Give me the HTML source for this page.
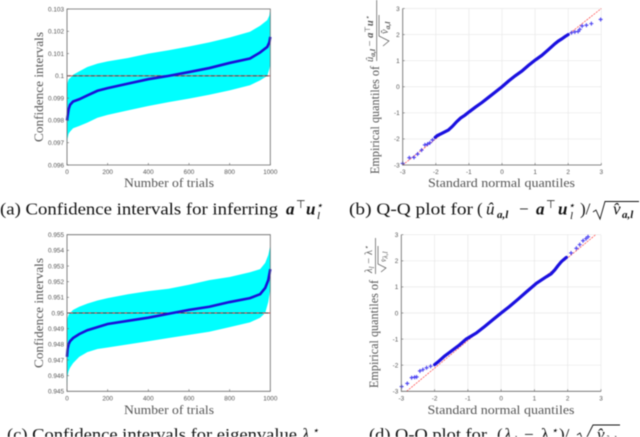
<!DOCTYPE html>
<html lang="en">
<head>
<meta charset="utf-8">
<title>Confidence intervals and Q-Q plots</title>
<style>
html,body{margin:0;padding:0;background:#fff;width:640px;height:437px;overflow:hidden}
svg{display:block;filter:blur(0.45px)}
text{font-family:"Liberation Serif",serif}
.tick{font-family:"Liberation Sans",sans-serif;font-size:6.4px;fill:#555}
.lab{font-size:13px;fill:#555}
.fr{font-size:10.5px;fill:#555}
.frs{font-size:7.5px;fill:#555}
.cap{font-size:17px;fill:#111}
.sub{font-size:11px;fill:#111}
.m{font-style:italic}
.b{font-style:italic;font-weight:bold}
</style>
</head>
<body>
<svg id="fig" xmlns="http://www.w3.org/2000/svg" width="640" height="437" viewBox="0 0 640 437">
  <g id="panel-a"></g>
  <g id="panel-b"></g>
  <g id="panel-c"></g>
  <g id="panel-d"></g>

  <text class="lab" x="169" y="187" text-anchor="middle" textLength="90" lengthAdjust="spacingAndGlyphs">Number of trials</text>
  <text class="lab" transform="translate(43,87) rotate(-90)" text-anchor="middle" textLength="110" lengthAdjust="spacingAndGlyphs">Confidence intervals</text>
  <text class="lab" x="169" y="414" text-anchor="middle" textLength="90" lengthAdjust="spacingAndGlyphs">Number of trials</text>
  <text class="lab" transform="translate(43,313) rotate(-90)" text-anchor="middle" textLength="110" lengthAdjust="spacingAndGlyphs">Confidence intervals</text>

  <text class="lab" x="501.5" y="187" text-anchor="middle" textLength="147" lengthAdjust="spacingAndGlyphs">Standard normal quantiles</text>
  <g>
    <text class="lab" transform="translate(379,174) rotate(-90)" textLength="108" lengthAdjust="spacingAndGlyphs">Empirical quantiles of</text>
    <text class="fr" transform="translate(373,62) rotate(-90)"><tspan class="m">û</tspan><tspan class="b frs" dy="2">a,l</tspan><tspan dy="-2"> − </tspan><tspan class="b">a</tspan><tspan class="frs" dy="-3">⊤</tspan><tspan class="b" dy="3">u</tspan><tspan class="m frs" dy="-3">⋆</tspan></text>
    <line x1="376.7" y1="61" x2="376.7" y2="0" stroke="#555" stroke-width="0.7"></line>
    <text class="fr" transform="translate(388,34) rotate(-90)"><tspan class="m">v̂</tspan><tspan class="b frs" dy="2">a,l</tspan></text>
    <path d="M383 46 L389 41 L379 36 V15" fill="none" stroke="#555" stroke-width="0.7"></path>
  </g>
  <text class="lab" x="501" y="414" text-anchor="middle" textLength="147" lengthAdjust="spacingAndGlyphs">Standard normal quantiles</text>
  <g>
    <text class="lab" transform="translate(378,388) rotate(-90)" textLength="108" lengthAdjust="spacingAndGlyphs">Empirical quantiles of</text>
    <text class="fr" transform="translate(372,273) rotate(-90)"><tspan class="m">λ</tspan><tspan class="m frs" dy="2">l</tspan><tspan dy="-2"> − λ</tspan><tspan class="m frs" dy="-3">⋆</tspan></text>
    <line x1="375.5" y1="274" x2="375.5" y2="238" stroke="#555" stroke-width="0.7"></line>
    <text class="frs" transform="translate(386,262) rotate(-90)"><tspan class="m">v̂</tspan><tspan class="m" dy="1.5">λ,l</tspan></text>
    <path d="M381 272 L386 268 L378 264 V246" fill="none" stroke="#555" stroke-width="0.7"></path>
  </g>

  <g>
    <text class="cap" x="0" y="214.5" textLength="278" lengthAdjust="spacingAndGlyphs">(a) Confidence intervals for inferring</text>
    <text class="cap b" x="286" y="214.5">a</text>
    <text class="sub" x="296" y="208">⊤</text>
    <text class="cap b" x="306" y="214.5">u</text>
    <text class="sub m" x="316" y="209">⋆</text>
    <text class="sub m" x="317" y="219">l</text>
  </g>
  <g>
    <text class="cap" x="349" y="214.5" textLength="124" lengthAdjust="spacingAndGlyphs">(b) Q-Q plot for</text>
    <text class="cap" x="477" y="214.5">(</text>
    <text class="cap m" x="486" y="214.5">û</text>
    <text class="sub b" x="497" y="218">a,l</text>
    <text class="cap" x="519" y="214.5">−</text>
    <text class="cap b" x="536" y="214.5">a</text>
    <text class="sub" x="546" y="208">⊤</text>
    <text class="cap b" x="558" y="214.5">u</text>
    <text class="sub m" x="568" y="209">⋆</text>
    <text class="sub m" x="570" y="219">l</text>
    <text class="cap" x="580" y="214.5">)/</text>
    <path d="M593 212 L596 210 L600 219 L605 201.5 H639" fill="none" stroke="#111" stroke-width="0.9"></path>
    <text class="cap m" x="613" y="214.5">v̂</text>
    <text class="sub b" x="622" y="218">a,l</text>
  </g>
  <g>
    <text class="cap" x="7" y="440" textLength="290" lengthAdjust="spacingAndGlyphs">(c) Confidence intervals for eigenvalue</text>
    <text class="cap m" x="302" y="440">λ</text>
    <text class="sub m" x="312" y="434">⋆</text>
  </g>
  <g>
    <text class="cap" x="369" y="440" textLength="118" lengthAdjust="spacingAndGlyphs">(d) Q-Q plot for</text>
    <text class="cap" x="497" y="440">(</text>
    <text class="cap m" x="504" y="440">λ</text>
    <text class="sub m" x="514" y="443">l</text>
    <text class="cap" x="524" y="440">−</text>
    <text class="cap" x="541" y="440">λ</text>
    <text class="sub m" x="551" y="434">⋆</text>
    <text class="cap" x="559" y="440">)/</text>
    <path d="M577 435 L580 433 L584 443 L593 425 H620" fill="none" stroke="#111" stroke-width="0.9"></path>
    <text class="cap m" x="597" y="440">v̂</text>
    <text class="sub m" x="606" y="443">λ,l</text>
  </g>
</svg>
<script>
const trialTicks = [0, 200, 400, 600, 800, 1000];
const quantileTicks = [-3, -2, -1, 0, 1, 2, 3];

const aTicks = [0.096, 0.097, 0.098, 0.099, 0.1, 0.101, 0.102, 0.103];
const aTrials = [0, 3, 8, 15, 30, 60, 100, 150, 200, 300, 400, 500, 600, 700, 800, 900, 950, 985, 995, 1000];
const aCenter = [0.098, 0.0982, 0.0985, 0.0987, 0.09885, 0.09895, 0.09912, 0.09933, 0.09945, 0.09965, 0.09985, 0.1, 0.10017, 0.10035, 0.10058, 0.10078, 0.10105, 0.1013, 0.1015, 0.10175];
const aUpper = [0.0995, 0.0997, 0.09985, 0.0999, 0.10005, 0.1002, 0.1004, 0.10055, 0.10065, 0.1008, 0.101, 0.10115, 0.10132, 0.1015, 0.10172, 0.10198, 0.10225, 0.1025, 0.1027, 0.103];
const aLower = [0.097, 0.0972, 0.0974, 0.0975, 0.09765, 0.09775, 0.0979, 0.09812, 0.09825, 0.09845, 0.09865, 0.09882, 0.09898, 0.09915, 0.09935, 0.09958, 0.0998, 0.1, 0.1003, 0.1005];

const cTicks = [0.945, 0.946, 0.947, 0.948, 0.949, 0.95, 0.951, 0.952, 0.953, 0.954, 0.955];
const cTrials = [0, 3, 8, 15, 30, 60, 100, 150, 200, 300, 400, 500, 600, 700, 800, 900, 950, 975, 990, 1000];
const cCenter = [0.9472, 0.9477, 0.948, 0.9482, 0.9484, 0.94865, 0.9489, 0.9491, 0.9493, 0.9495, 0.9497, 0.94995, 0.9502, 0.9504, 0.9507, 0.95095, 0.9512, 0.9516, 0.9521, 0.9528];
const cUpper = [0.9495, 0.9497, 0.9499, 0.95, 0.9502, 0.9504, 0.9506, 0.9508, 0.95095, 0.9512, 0.9514, 0.95155, 0.9518, 0.9521, 0.9523, 0.9526, 0.9528, 0.9532, 0.9537, 0.9543];
const cLower = [0.9453, 0.946, 0.9463, 0.9465, 0.9468, 0.9472, 0.9475, 0.9477, 0.9478, 0.948, 0.9482, 0.9484, 0.9486, 0.9488, 0.9491, 0.9494, 0.9497, 0.95, 0.9507, 0.9515];

const bTheory = [-3, -2.8, -2.66, -2.55, -2.43, -2.33, -2.25, -2.18, -2.1, -2.02, -1.95, -1.82, -1.62, -1.5, -1.37, -1.25, -1.12, -1, -0.8, -0.6, -0.4, -0.2, 0, 0.2, 0.4, 0.6, 0.8, 1, 1.2, 1.4, 1.6, 1.7, 1.8, 1.9, 2, 2.1, 2.2, 2.3, 2.35, 2.42, 2.55, 2.7, 2.98];
const bSample = [-2.94, -2.72, -2.71, -2.58, -2.43, -2.23, -2.2, -2.15, -2.04, -1.94, -1.87, -1.79, -1.66, -1.52, -1.34, -1.2, -1.09, -0.97, -0.78, -0.6, -0.4, -0.2, 0, 0.22, 0.42, 0.6, 0.82, 1.02, 1.2, 1.42, 1.65, 1.75, 1.83, 1.92, 2, 2.07, 2.1, 2.12, 2.2, 2.33, 2.36, 2.42, 2.58];
const bRefX = [-3, 3];
const bRefY = [-3, 3];

const dTheory = [-2.99, -2.82, -2.69, -2.6, -2.54, -2.44, -2.35, -2.24, -2.12, -2, -1.9, -1.7, -1.5, -1.25, -1.05, -0.75, -0.5, -0.25, 0, 0.25, 0.5, 0.75, 1.06, 1.36, 1.5, 1.61, 1.7, 1.81, 1.96, 2.1, 2.26, 2.36, 2.46, 2.55, 2.61];
const dSample = [-2.82, -2.7, -2.48, -2.46, -2.45, -2.22, -2.17, -2.1, -2.04, -1.98, -1.88, -1.65, -1.46, -1.22, -1, -0.77, -0.52, -0.26, 0, 0.25, 0.52, 0.8, 1.14, 1.39, 1.5, 1.65, 1.8, 1.97, 2.13, 2.3, 2.48, 2.62, 2.77, 2.85, 2.92];
const dRefX = [-2.84, 2.84];
const dRefY = [-3, 3];

const SVG_NS = 'http://www.w3.org/2000/svg';

function scale(d0, d1, r0, r1) {
  return function (v) { return r0 + (v - d0) / (d1 - d0) * (r1 - r0); };
}
function mk(parent, tag, props) {
  const el = document.createElementNS(SVG_NS, tag);
  for (const k in props) el.setAttribute(k, props[k]);
  parent.appendChild(el);
  return el;
}
function fmt(v) {
  return String(Number(v.toFixed(3)));
}
function frame(g, box, x, y, xTicks, yTicks, prefix) {
  xTicks.forEach(function (t) {
    const gl = mk(g, 'line', { x1: x(t), x2: x(t), y1: box.top, y2: box.bottom, stroke: '#e8e8e8', 'stroke-width': 0.7 });
    
    
  });
  yTicks.forEach(function (t) {
    const gl = mk(g, 'line', { x1: box.left, x2: box.right, y1: y(t), y2: y(t), stroke: '#e8e8e8', 'stroke-width': 0.7 });
    
    
  });
}
function axes(g, box, x, y, xTicks, yTicks, grid, prefix) {
  const axisColor = '#666';
  const r = mk(g, 'path', {
    d: grid
      ? 'M' + box.left + ' ' + box.top + 'V' + box.bottom + 'H' + box.right
      : 'M' + box.left + ' ' + box.top + 'H' + box.right + 'V' + box.bottom + 'H' + box.left + 'Z',
    fill: 'none', stroke: axisColor, 'stroke-width': 0.8
  });
  
  
  xTicks.forEach(function (t) {
    const tk = mk(g, 'line', { x1: x(t), x2: x(t), y1: box.bottom, y2: box.bottom - 2, stroke: axisColor, 'stroke-width': 0.6 });
    
    
    const lb = mk(g, 'text', { x: x(t), y: box.bottom + 9, 'text-anchor': 'middle', class: 'tick' });
    
    
    lb.textContent = fmt(t);
  });
  yTicks.forEach(function (t) {
    const tk = mk(g, 'line', { x1: box.left, x2: box.left + 2, y1: y(t), y2: y(t), stroke: axisColor, 'stroke-width': 0.6 });
    
    
    const lb = mk(g, 'text', { x: box.left - 3, y: y(t) + 2.3, 'text-anchor': 'end', class: 'tick' });
    
    
    lb.textContent = fmt(t);
  });
}
function drawCI(id, prefix, box, yTicks, trials, center, upper, lower, truth) {
  const g = document.getElementById(id);
  const x = scale(0, 1000, box.left, box.right);
  const y = scale(yTicks[0], yTicks[yTicks.length - 1], box.bottom, box.top);
  const upperPts = trials.map(function (t, i) { return x(t) + ',' + y(upper[i]); });
  const lowerPts = trials.map(function (t, i) { return x(t) + ',' + y(lower[i]); }).reverse();
  const band = mk(g, 'polygon', { points: upperPts.concat(lowerPts).join(' '), fill: '#00ffff' });
  
  
  const red = mk(g, 'line', { x1: box.left, x2: box.right, y1: y(truth), y2: y(truth), stroke: '#ff3030', 'stroke-width': 0.9 });
  
  
  const dash = mk(g, 'line', { x1: box.left, x2: box.right, y1: y(truth), y2: y(truth), stroke: '#444', 'stroke-width': 0.9, 'stroke-dasharray': '3.5 2.5' });
  
  
  const line = mk(g, 'polyline', {
    points: trials.map(function (t, i) { return x(t) + ',' + y(center[i]); }).join(' '),
    fill: 'none', stroke: '#1a10d8', 'stroke-width': 2.6
  });
  
  
  axes(g, box, x, y, trialTicks, yTicks, false, prefix);
}
function drawQQ(id, prefix, box, theory, sample, refX, refY) {
  const g = document.getElementById(id);
  const x = scale(-3, 3, box.left, box.right);
  const y = scale(-3, 3, box.bottom, box.top);
  frame(g, box, x, y, quantileTicks, quantileTicks, prefix);
  const ref = mk(g, 'line', { x1: x(refX[0]), y1: y(refY[0]), x2: x(refX[1]), y2: y(refY[1]), stroke: '#ff4040', 'stroke-width': 0.7, 'stroke-dasharray': '2 1' });
  
  
  const dense = [];
  theory.forEach(function (t, i) {
    if (Math.abs(t) <= 2.05) dense.push(x(t) + ',' + y(sample[i]));
  });
  const body = mk(g, 'polyline', { points: dense.join(' '), fill: 'none', stroke: '#1a10e0', 'stroke-width': 3.2, 'stroke-linecap': 'round' });
  
  
  theory.forEach(function (t, i) {
    if (Math.abs(t) > 2.05) {
      const px = x(t);
      const py = y(sample[i]);
      const m = mk(g, 'path', {
        d: 'M' + (px - 2) + ' ' + py + 'H' + (px + 2) + 'M' + px + ' ' + (py - 2) + 'V' + (py + 2),
        stroke: '#2a20f0', 'stroke-width': 1.1, fill: 'none', opacity: 0.85
      });
      
      
    }
  });
  axes(g, box, x, y, quantileTicks, quantileTicks, true, prefix);
}

drawCI('panel-a', 'panel-a', { left: 67, right: 270.3, top: 9, bottom: 165 }, aTicks, aTrials, aCenter, aUpper, aLower, 0.1);
drawCI('panel-c', 'panel-c', { left: 67, right: 270.3, top: 234.7, bottom: 391.3 }, cTicks, cTrials, cCenter, cUpper, cLower, 0.95);
drawQQ('panel-b', 'panel-b', { left: 402.7, right: 601.3, top: 8.5, bottom: 165 }, bTheory, bSample, bRefX, bRefY);
drawQQ('panel-d', 'panel-d', { left: 401.3, right: 601, top: 234.7, bottom: 391.3 }, dTheory, dSample, dRefX, dRefY);
</script>
</body>
</html>
